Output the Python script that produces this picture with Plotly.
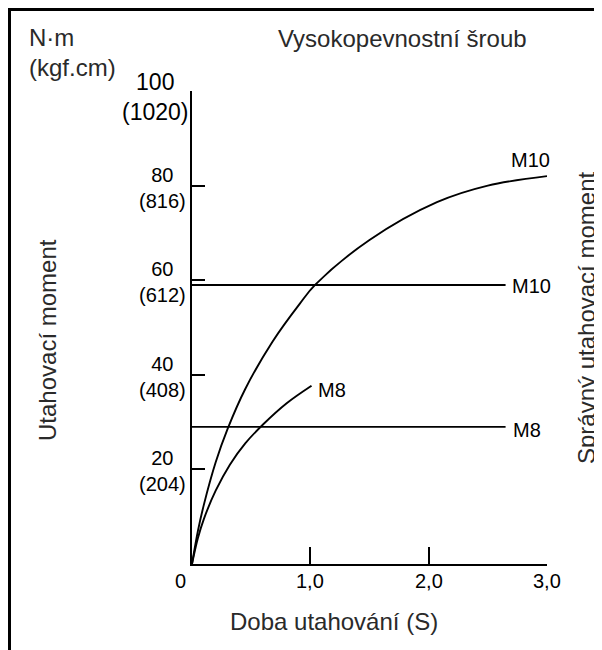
import plotly.graph_objects as go

# ---------------- data ----------------
time_ticks = [0, 1, 2, 3]
time_tick_labels = ["0", "1,0", "2,0", "3,0"]

torque_ticks = [20, 40, 60, 80, 100]
torque_tick_labels = ["20", "40", "60", "80", "100"]
kgf_tick_labels = ["(204)", "(408)", "(612)", "(816)", "(1020)"]

m10_time = [0, 0.05, 0.1, 0.2, 0.3, 0.45, 0.68, 0.91, 1.04, 1.5, 2.07, 2.5, 3.0]
m10_torque = [0, 7, 12.5, 21.5, 28.5, 37, 47, 55, 59, 68.5, 76.5, 80, 82]

m8_time = [0, 0.05, 0.1, 0.2, 0.32, 0.45, 0.6, 0.8, 1.01]
m8_torque = [0, 5.5, 9.5, 15.5, 21, 25.5, 29.5, 34, 37.7]

correct_time = [0, 2.65]
correct_m10 = [59, 59]
correct_m8 = [29, 29]

# ---------------- layout geometry ----------------
# the page body adds an 8px offset; reference pixel coords are converted
OFF = 8
W_FIG, H_FIG = 602 - OFF, 650 - OFF
L, R, T, B = 192 - OFF, 547 - OFF, 91 - OFF, 564 - OFF
PW, PH = R - L, B - T


def px(x):
    return (x - OFF - L) / PW


def py(y):
    return (B - (y - OFF)) / PH


FONT = "Liberation Sans, Arial, sans-serif"
LINE = dict(color="black", width=1.9)

fig = go.Figure()
fig.add_trace(go.Scatter(x=m10_time, y=m10_torque, mode="lines", line=dict(LINE, shape="spline"),
                         hoverinfo="skip", showlegend=False))
fig.add_trace(go.Scatter(x=m8_time, y=m8_torque, mode="lines", line=dict(LINE, shape="spline"),
                         hoverinfo="skip", showlegend=False))
fig.add_trace(go.Scatter(x=correct_time, y=correct_m10, mode="lines", line=LINE,
                         hoverinfo="skip", showlegend=False))
fig.add_trace(go.Scatter(x=correct_time, y=correct_m8, mode="lines", line=LINE,
                         hoverinfo="skip", showlegend=False))

ann = []
# x tick labels
for v, t in zip(time_ticks, time_tick_labels):
    ann.append(dict(x=v, xref="x", y=0, yref="paper", text=t, showarrow=False,
                    xanchor="center", yanchor="top", yshift=-4, xshift=(-12 if v == 0 else 0),
                    font=dict(family=FONT, size=20, color="black")))
# y tick labels (value over kgf.cm value)
for v, t, k in zip(torque_ticks, torque_tick_labels, kgf_tick_labels):
    big = v == 100
    ann.append(dict(x=px(190 if big else 188), xref="paper", y=v, yref="y",
                    text=f"{t}<br>{k}", align="center", showarrow=False,
                    xanchor="right", yanchor="middle", yshift=(-6 if big else -2),
                    font=dict(family=FONT, size=(23 if big else 20), color="black")))

# series labels
ann += [
    dict(x=2.86, y=85.5, text="M10"),
    dict(x=2.87, y=58.7, text="M10"),
    dict(x=1.18, y=36.7, text="M8"),
    dict(x=2.83, y=28.3, text="M8"),
]
for a in ann[-4:]:
    a.update(xref="x", yref="y", showarrow=False, xanchor="center", yanchor="middle",
             font=dict(family=FONT, size=20, color="black"))

TXT = dict(family=FONT, size=24, color="#2a2a2a")
ann += [
    dict(x=px(27), y=py(37), xref="paper", yref="paper", text="N·m", showarrow=False,
         xanchor="left", yanchor="middle", font=TXT),
    dict(x=px(27), y=py(67), xref="paper", yref="paper", text="(kgf.cm)", showarrow=False,
         xanchor="left", yanchor="middle", font=TXT),
    dict(x=px(402), y=py(38), xref="paper", yref="paper", text="Vysokopevnostní šroub", showarrow=False,
         xanchor="center", yanchor="middle", font=TXT),
    dict(x=px(334), y=py(621), xref="paper", yref="paper", text="Doba utahování (S)", showarrow=False,
         xanchor="center", yanchor="middle", font=TXT),
    dict(x=px(47), y=py(340), xref="paper", yref="paper", text="Utahovací moment", showarrow=False,
         xanchor="center", yanchor="middle", textangle=-90, font=TXT),
    dict(x=px(586), y=py(318), xref="paper", yref="paper", text="Správný utahovací moment", showarrow=False,
         xanchor="center", yanchor="middle", textangle=-90, font=TXT),
]

fig.update_layout(
    width=W_FIG, height=H_FIG,
    margin=dict(l=L, r=W_FIG - R, t=T, b=H_FIG - B, pad=0),
    paper_bgcolor="white", plot_bgcolor="white",
    annotations=ann,
    shapes=[dict(type="rect", xref="paper", yref="paper",
                 x0=px(OFF + 1.5), x1=px(700), y0=py(760), y1=py(OFF + 1.5),
                 line=dict(color="black", width=3), fillcolor="rgba(0,0,0,0)", layer="above")],
    xaxis=dict(range=[0, 3], showgrid=False, zeroline=False, showline=True, linecolor="black",
               linewidth=2, ticks="inside", ticklen=17, tickwidth=2, tickcolor="black",
               tickvals=time_ticks[1:], showticklabels=False, fixedrange=True),
    yaxis=dict(range=[0, 100], showgrid=False, zeroline=False, showline=True, linecolor="black",
               linewidth=2, ticks="inside", ticklen=13, tickwidth=2, tickcolor="black",
               tickvals=torque_ticks, showticklabels=False, fixedrange=True),
)

fig.write_html("out.html")
